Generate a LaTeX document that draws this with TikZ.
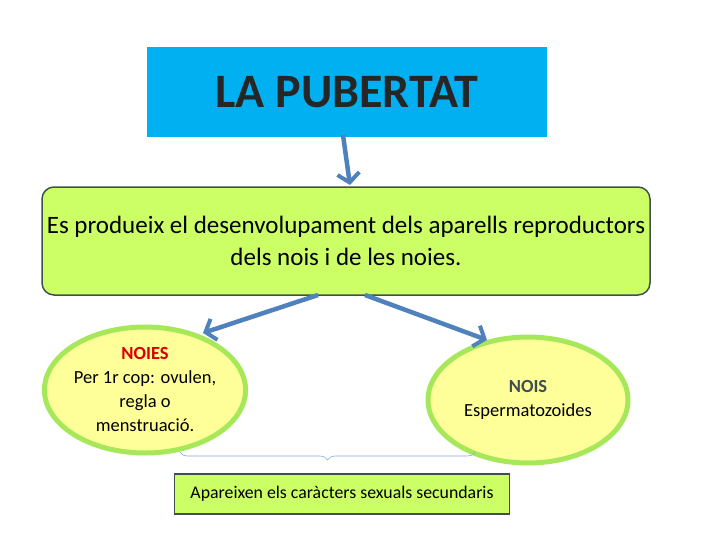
\documentclass[tikz,border=0pt]{standalone}
\usepackage{fontspec}
\setmainfont{Carlito}
\usetikzlibrary{shapes.geometric,arrows.meta,decorations.pathreplacing}
\definecolor{cyanb}{HTML}{00B0F0}
\definecolor{lgreen}{HTML}{CCFF66}
\definecolor{lyel}{HTML}{FFFF99}
\definecolor{egreen}{HTML}{A6E85A}
\definecolor{arrb}{HTML}{4F81BD}
\definecolor{bord}{HTML}{3F4F4F}
\tikzset{
 arr/.style={draw=arrb,line width=4.5pt,-{Straight Barb[length=9pt,width=22pt,line width=4pt]}},
 ell/.style={ellipse,fill=lyel,draw=egreen,line width=5pt,align=center,font=\fontsize{18.5}{24}\selectfont,inner sep=0pt},
 gbox/.style={fill=lgreen,draw=bord,line width=1.5pt,align=center}
}
\begin{document}
\begin{tikzpicture}[x=1pt,y=-1pt]
\useasboundingbox (0,0) rectangle (728,546);
\node[fill=cyanb,minimum width=400pt,minimum height=90pt,font=\bfseries\fontsize{48}{50}\selectfont,text=black!85] (t) at (347,92) {LA PUBERTAT};
\node[gbox,rounded corners=12pt,minimum width=608pt,minimum height=108pt,font=\fontsize{25}{32}\selectfont,inner sep=0pt] (m) at (346,241) {Es produeix el desenvolupament dels aparells reproductors\\dels nois i de les noies.};
\node[ell,minimum width=200pt,minimum height=126pt] (l) at (145,390) {\textcolor{red!85!black}{\bfseries NOIES}\\Per 1r cop: ovulen,\\regla o\\menstruació.};
\node[ell,minimum width=200pt,minimum height=126pt] (r) at (528,400) {\textcolor{bord}{\bfseries NOIS}\\Espermatozoides};
\node[gbox,minimum width=335pt,minimum height=40pt,font=\fontsize{17.8}{20}\selectfont] (b) at (342,494) {Apareixen els caràcters sexuals secundaris};
\coordinate (a0) at (343,135); \coordinate (a1) at (350,185);
\coordinate (l0) at (318,295); \coordinate (l1) at (203,333);
\coordinate (r0) at (365,295); \coordinate (r1) at (487,340);
\draw[arr] (a0) -- (a1);
\draw[arr] (l0) -- (l1);
\draw[arr] (r0) -- (r1);
\coordinate (bl) at (180,452); \coordinate (br) at (475,452);
\draw[draw=arrb!70,line width=0.6pt,decorate,decoration={brace,mirror,amplitude=8pt}] (bl) -- (br);
\end{tikzpicture}
\end{document}
